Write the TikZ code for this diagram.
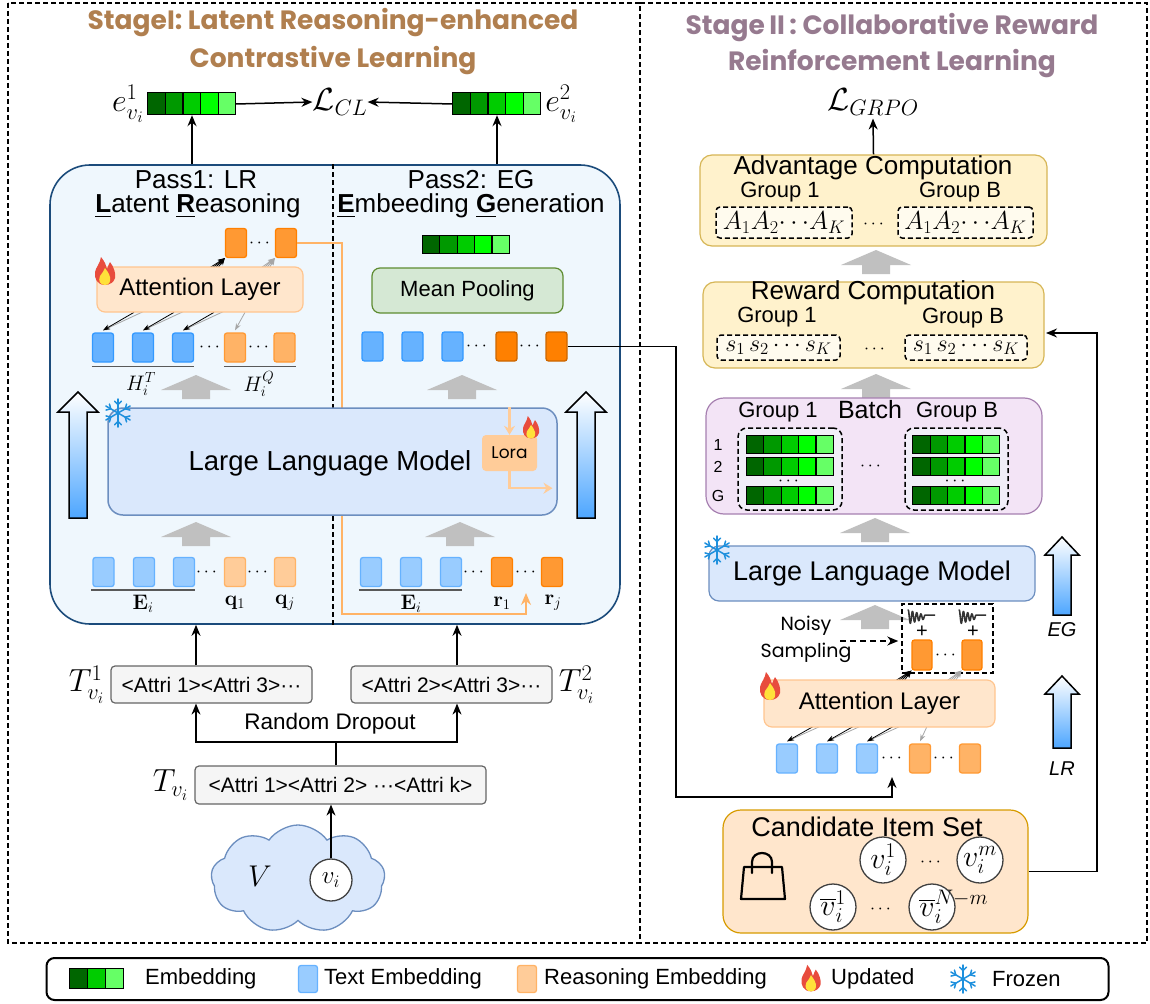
\RequirePackage{fix-cm}
\documentclass[tikz,border=0pt]{standalone}
\usepackage{amsmath}
\usepackage[no-math]{fontspec}
\setmainfont{Liberation Sans}
\newfontfamily\comicfont{Poppins}
\usetikzlibrary{arrows.meta, shapes.symbols, calc}

\definecolor{emA}{HTML}{006600}
\definecolor{emB}{HTML}{009900}
\definecolor{emC}{HTML}{00CC00}
\definecolor{emD}{HTML}{00FF00}
\definecolor{emE}{HTML}{66FF66}
\definecolor{tokblue}{HTML}{66B2FF}
\definecolor{tokblueline}{HTML}{3399FF}
\definecolor{tokltblue}{HTML}{99CCFF}
\definecolor{tokorange}{HTML}{FFB366}
\definecolor{tokorangeline}{HTML}{FF9933}
\definecolor{tokltorange}{HTML}{FFCC99}
\definecolor{tokdkorange}{HTML}{FF9933}
\definecolor{tokdkorangeline}{HTML}{FF8000}
\definecolor{tokdeep}{HTML}{FF8000}
\definecolor{tokdeepline}{HTML}{CC6600}
\definecolor{panelfill}{HTML}{EFF7FD}
\definecolor{panelline}{HTML}{1B4B7B}
\definecolor{llmfill}{HTML}{DAE8FC}
\definecolor{llmline}{HTML}{6C8EBF}
\definecolor{attnfill}{HTML}{FFE6CC}
\definecolor{attnline}{HTML}{FFC58F}
\definecolor{poolfill}{HTML}{D5E8D4}
\definecolor{poolline}{HTML}{5E8C31}
\definecolor{advfill}{HTML}{FFF2CC}
\definecolor{advline}{HTML}{D6B656}
\definecolor{batchfill}{HTML}{F3E4F6}
\definecolor{batchline}{HTML}{A680B0}
\definecolor{candfill}{HTML}{FFE6CC}
\definecolor{candline}{HTML}{D79B00}
\definecolor{attrfill}{HTML}{F5F5F5}
\definecolor{attrline}{HTML}{666666}
\definecolor{stageIcol}{HTML}{B07F4F}
\definecolor{stageIIcol}{HTML}{967A8F}
\definecolor{arrowgray}{HTML}{C0C0C0}
\definecolor{arrowblue}{HTML}{4DA6FF}
\definecolor{frostblue}{HTML}{1E90DD}
\definecolor{flamered}{HTML}{E84C3D}
\definecolor{flameyellow}{HTML}{FFE13A}
\definecolor{routeorange}{HTML}{FFB366}
\definecolor{setfill}{HTML}{FFFBEE}
\definecolor{grpfill}{HTML}{F1EEF8}

\tikzset{
  stageframe/.style={dash pattern=on 5pt off 3pt, line width=1.3pt},
  titleI/.style={align=center, text=stageIcol, inner sep=0pt, font=\comicfont\bfseries\fontsize{26.5}{38}\selectfont},
  titleII/.style={align=center, text=stageIIcol, inner sep=0pt, font=\comicfont\bfseries\fontsize{26.5}{36}\selectfont},
  mathlbl/.style={inner sep=0pt, font=\fontsize{32}{34}\selectfont},
  smallmath/.style={inner sep=0pt, font=\fontsize{21}{24}\selectfont},
  passlbl/.style={inner sep=0pt, font=\fontsize{26}{28}\selectfont},
  boxlbl/.style={inner sep=0pt, font=\fontsize{26}{28}\selectfont},
  grplbl/.style={inner sep=0pt, font=\fontsize{22}{24}\selectfont},
  dotlbl/.style={inner sep=0pt, font=\fontsize{18}{18}\selectfont},
  comiclbl/.style={inner sep=0pt, font=\comicfont\fontsize{19}{27}\selectfont},
  block/.style={draw, line width=1.2pt, rounded corners=8pt, inner sep=0pt},
  attrbox/.style={block, fill=attrfill, draw=attrline, rounded corners=4pt, minimum height=37pt, font=\fontsize{21}{24}\selectfont},
  setbox/.style={draw, dash pattern=on 5pt off 3pt, line width=1.5pt, rounded corners=4pt, fill=setfill, inner sep=0pt, font=\fontsize{26}{28}\selectfont},
  tok/.style={draw, rounded corners=2.5pt, line width=1.3pt, minimum width=21pt, minimum height=29pt, inner sep=0pt},
  tokT/.style={tok, fill=tokblue, draw=tokblueline},
  tokE/.style={tok, fill=tokltblue, draw=tokblue},
  tokQ/.style={tok, fill=tokltorange, draw=tokorange},
  tokH/.style={tok, fill=tokorange, draw=tokorangeline},
  tokR/.style={tok, fill=tokdkorange, draw=tokdkorangeline},
  tokD/.style={tok, fill=tokdeep, draw=tokdeepline},
  flow/.style={-{Stealth[length=11pt, width=9pt]}, line width=1.5pt},
  fan/.style={-{Stealth[length=7pt, width=5pt]}, line width=0.8pt},
  fangray/.style={fan, draw=gray!70, color=gray!70},
  underbar/.style={line width=1.5pt, draw=black!65},
  itemcirc/.style={circle, draw=black!75, line width=1.3pt, fill=white, minimum size=46pt, inner sep=0pt, font=\fontsize{30}{32}\selectfont},
}

% embedding bar: name, centre, cell width, cell height, colours
\newcommand{\embbar}[5]{%
  \node [inner sep=0pt, minimum width=5*#3, minimum height=#4] (#1) at (#2) {};
  \foreach \c [count=\k from 0] in {#5}
    \draw [fill=\c, line width=1.2pt] ([xshift=\k*#3]#1.north west) rectangle ++(#3,#4);
}
% grey block arrow: x, top
\newcommand{\grayup}[2]{%
  \fill [arrowgray] (#1,#2) -- (#1+35,#2+15) -- (#1+14,#2+15) -- (#1+14,#2+24)
    -- (#1-14,#2+24) -- (#1-14,#2+15) -- (#1-35,#2+15) -- cycle;
}
% hollow shaded arrow: x, top, head base, bottom, half head
\newcommand{\hollowup}[5]{%
  \path [draw, line width=1.5pt, top color=white, bottom color=arrowblue]
    (#1,#2) -- (#1+#5,#3) -- (#1+9,#3) -- (#1+9,#4) -- (#1-9,#4) -- (#1-9,#3) -- (#1-#5,#3) -- cycle;
}
% flame: x, y, scale
\newcommand{\flame}[3]{%
  \begin{scope}[shift={(#1,#2)}, scale=#3]
    \fill [flamered] (0,13) .. controls (-8,13) and (-11,6) .. (-10,0)
      .. controls (-9,-5) and (-5,-8) .. (-4,-15) .. controls (0,-10) and (1,-7) .. (2,-3)
      .. controls (3,-6) and (4,-8) .. (5,-10) .. controls (9,-5) and (11,2) .. (10,6)
      .. controls (9,10) and (5,13) .. (0,13) -- cycle;
    \fill [flameyellow] (0,13) .. controls (-5,13) and (-7,9) .. (-5,4)
      .. controls (-3,1) and (-1,-1) .. (0,-4) .. controls (2,-1) and (4,1) .. (5,5)
      .. controls (6,10) and (4,13) .. (0,13) -- cycle;
  \end{scope}
}
% snowflake: x, y, radius
\newcommand{\snowflake}[3]{%
  \begin{scope}[shift={(#1,#2)}, line width=1.5pt, draw=frostblue, line cap=round]
    \foreach \a in {30,90,...,330} {
      \draw (0,0) -- (\a:#3);
      \draw (\a:0.6*#3) -- ++(\a+45:0.35*#3);
      \draw (\a:0.6*#3) -- ++(\a-45:0.35*#3);
    }
  \end{scope}
}
% noise wave: x, y
\newcommand{\noisewave}[2]{%
  \draw [line width=1.6pt, black!80, line join=round] plot [domain=-14:3, samples=80, smooth] ({#1+\x}, {#2+(7-0.3*(\x+14))*sin(\x*85)}) -- ++(10,0);
}

\begin{document}
\begin{tikzpicture}[x=1pt, y=-1pt]
  \useasboundingbox (0,0) rectangle (1150,1003);

  % stage frames
  \draw [stageframe] (8,3) rectangle (640,943);
  \draw [stageframe] (640,3) -- (1147,3) -- (1147,943) -- (640,943);
  \node [titleI] (titleI) at (333,42) {StageI: Latent Reasoning-enhanced\\Contrastive Learning};
  \node [titleII] (titleII) at (892,46) {Stage\,II\,: Collaborative Reward\\Reinforcement Learning};

  % ---------------- Stage I ----------------
  % contrastive loss
  \embbar{e1}{192,104}{17.6}{22}{emA,emB,emC,emD,emE}
  \embbar{e2}{497,104}{17.6}{22}{emA,emB,emC,emD,emE}
  \node [mathlbl] (lcl) at (340,102) {$\mathcal{L}_{CL}$};
  \node [mathlbl, anchor=east] (e1lbl) at ([xshift=-4pt]e1.west) {$e_{v_i}^{1}$};
  \node [mathlbl, anchor=west] (e2lbl) at ([xshift=4pt]e2.east) {$e_{v_i}^{2}$};
  \draw [flow]     (e1.east) -- (lcl.west);
  \draw [flow]     (e2.west) -- (lcl.east);

  % panel with two passes
  \node [draw=panelline, fill=panelfill, line width=1.6pt, rounded corners=40pt,
         minimum width=570, minimum height=459, inner sep=0pt] (panel) at (335,394.5) {};
  \coordinate (divx) at (333,0);
  \draw [dash pattern=on 5pt off 3pt, line width=1.3pt] (panel.north -| divx) -- (panel.south -| divx);
  \draw [flow]     (e1.south |- panel.north) -- (e1.south);
  \draw [flow]     (e2.south |- panel.north) -- (e2.south);
  \node [passlbl] (p1a) at (196,180) {Pass1: LR};
  \node [passlbl] (p1b) at (198,206) {\underline{\textbf{L}}atent \underline{\textbf{R}}easoning};
  \node [passlbl] (p2a) at (471,180) {Pass2: EG};
  \node [passlbl] (p2b) at (471,206) {\underline{\textbf{E}}mbeeding \underline{\textbf{G}}eneration};

  % Pass1: latent tokens
  \node [tokR] (lq1) at (236,243) {};
  \node [dotlbl] (lqd) at (261,243) {$\cdots$};
  \node [tokR] (lq2) at (286,243) {};
  \coordinate (routeend) at (526,593);
  \draw [-{Stealth[length=12pt, width=10pt]}, line width=1.5pt, routeorange]
        (lq2.east) -| (342,614) -| (routeend);

  % Pass1: attention over hidden states
  \node [tokT] (lh1) at (103,347.5) {};
  \node [tokT] (lh2) at (143,347.5) {};
  \node [tokT] (lh3) at (183,347.5) {};
  \node [dotlbl] (lhd1) at (211,347.5) {$\cdots$};
  \node [tokH] (lh4) at (235,347.5) {};
  \node [dotlbl] (lhd2) at (260,347.5) {$\cdots$};
  \node [tokH] (lh5) at (284.5,347.5) {};
  \foreach \s in {0,4,8,12} {
    \draw [fan]     ($(lq1.south west)+(-10-\s,14)$) -- (lq1.south west);
    \draw [fangray] ($(lq2.south west)+(-8-\s,14)$) -- (lq2.south west);
  }
  \foreach \t in {lh1,lh2,lh3} {
    \draw [fangray] ($(\t.north)+(43,-22)$) -- ([yshift=2pt]\t.north);
    \draw [fan]     ($(\t.north)+(31,-20)$) -- ([yshift=2pt]\t.north);
  }
  \draw [fangray] ($(lh4.north)+(10,-20)$) -- ([yshift=2pt]lh4.north);
  \node [block, fill=attnfill, draw=attnline, minimum width=206, minimum height=45,
         font=\fontsize{24}{26}\selectfont] (lattn) at (200,289.5) {Attention Layer};
  \flame{105}{272}{1}
  \draw [underbar] (lh1.south west) ++(0,4) -- ([yshift=-4pt]lh3.south east);
  \draw [underbar] (lh4.south west) ++(0,4) -- ([yshift=-4pt]lh5.south east);
  \node [smallmath] (hT) at (141,384) {$H_i^{T}$};
  \node [smallmath] (hQ) at (259,384) {$H_i^{Q}$};
  \grayup{196}{375}

  % Pass2: mean pooling
  \embbar{pe}{466,244.5}{17.4}{18}{emA,emB,emC,emD,emE}
  \node [block, fill=poolfill, draw=poolline, minimum width=191, minimum height=45,
         font=\fontsize{22}{26}\selectfont] (pool) at (467.5,290.5) {Mean Pooling};
  \node [tokT] (ph1) at (372.5,346.5) {};
  \node [tokT] (ph2) at (412.5,346.5) {};
  \node [tokT] (ph3) at (452.5,346.5) {};
  \node [dotlbl] (phd1) at (478,346.5) {$\cdots$};
  \node [tokD] (ph4) at (506.5,346.5) {};
  \node [dotlbl] (phd2) at (531,346.5) {$\cdots$};
  \node [tokD] (ph5) at (556.5,346.5) {};
  \grayup{462}{375}

  % shared LLM
  \hollowup{78}{392}{412}{518}{20}
  \hollowup{586}{392}{412}{518}{20}
  \node [block, fill=llmfill, draw=llmline, line width=1.5pt, rounded corners=15pt,
         minimum width=449, minimum height=107] (llm) at (332.5,461.5) {};
  \node [boxlbl, font=\fontsize{27.5}{30}\selectfont] (llmt) at (330,463) {Large Language Model};
  \snowflake{118}{413}{14}
  \node [fill=tokltorange, rounded corners=4pt, minimum width=55, minimum height=36,
         inner sep=0pt, font=\comicfont\fontsize{17}{20}\selectfont] (lora) at (509.5,453) {Lora};
  \draw [-{Stealth[length=9pt, width=11pt]}, line width=2.5pt, tokltorange]
        (lora.north |- llm.north) -- (lora.north);
  \draw [-{Stealth[length=9pt, width=11pt]}, line width=2.5pt, tokltorange]
        (lora.south) -- ++(0,17) -- ++(43,0);
  \flame{531}{428}{0.8}
  \grayup{196}{522}
  \grayup{460}{522}

  % input embeddings
  \node [tokE] (le1) at (103.5,572) {};
  \node [tokE] (le2) at (144,572) {};
  \node [tokE] (le3) at (184,572) {};
  \node [dotlbl] (led1) at (208,572) {$\cdots$};
  \node [tokQ] (le4) at (235,572) {};
  \node [dotlbl] (led2) at (259,572) {$\cdots$};
  \node [tokQ] (le5) at (285,572) {};
  \node [tokE] (re1) at (371,572) {};
  \node [tokE] (re2) at (411,572) {};
  \node [tokE] (re3) at (451,572) {};
  \node [dotlbl] (red1) at (475,572) {$\cdots$};
  \node [tokR] (re4) at (502,572) {};
  \node [dotlbl] (red2) at (527,572) {$\cdots$};
  \node [tokR] (re5) at (552,572) {};
  \draw [underbar] (le1.south west) ++(-1,3) -- ([yshift=-3pt]le3.south east);
  \draw [underbar] (re1.south west) ++(-1,3) -- ([yshift=-3pt]re3.south east);
  \node [smallmath] (lE) at (143,604) {$\mathbf{E}_i$};
  \node [smallmath] (lq1l) at (235,603) {$\mathbf{q}_1$};
  \node [smallmath] (lqjl) at (285,603) {$\mathbf{q}_j$};
  \node [smallmath] (rE) at (411,604) {$\mathbf{E}_i$};
  \node [smallmath] (rr1l) at (502,603) {$\mathbf{r}_1$};
  \node [smallmath] (rrjl) at (553,603) {$\mathbf{r}_j$};

  % attribute texts
  \coordinate (split) at (336,742);
  \coordinate (d1) at (196,742);
  \coordinate (d2) at (457,742);
  \node [attrbox, minimum width=201] (t1) at (211.5,684.5) {<Attri 1><Attri 3>···};
  \node [attrbox, minimum width=201] (t2) at (451.5,684.5) {<Attri 2><Attri 3>···};
  \node [attrbox, minimum width=291, minimum height=38] (tv) at (340.5,785) {<Attri 1><Attri 2> ···<Attri k>};
  \node [mathlbl, anchor=east] (t1lbl) at ([xshift=-6pt]t1.west) {$T_{v_i}^{1}$};
  \node [mathlbl, anchor=west] (t2lbl) at ([xshift=6pt]t2.east) {$T_{v_i}^{2}$};
  \node [mathlbl, anchor=east] (tvlbl) at ([xshift=-6pt]tv.west) {$T_{v_i}$};
  \draw [flow]     (d1 |- t1.north) -- (d1 |- panel.south);
  \draw [flow]     (d2 |- t2.north) -- (d2 |- panel.south);
  \draw [line width=1.5pt] (split |- tv.north) -- (split);
  \draw [flow]     (split) -- (d1) -- (d1 |- t1.south);
  \draw [flow]     (split) -- (d2) -- (d2 |- t2.south);
  \node [grplbl, font=\fontsize{22.5}{24}\selectfont] (drop) at (330,724) {Random Dropout};

  % item pool
  \node [cloud, cloud puffs=9, cloud puff arc=110, aspect=1.6, draw=llmline, fill=llmfill,
         line width=1.3pt, minimum width=174, minimum height=108, inner sep=0pt] (V) at (298,879) {};
  \node [mathlbl, font=\fontsize{30}{32}\selectfont] (Vlbl) at (260,876) {$V$};
  \node [itemcirc, minimum size=42pt, font=\fontsize{25}{27}\selectfont] (vi) at (331,880) {$v_i$};
  \draw [flow]     (vi.north) -- (vi.north |- tv.south);

  % ---------------- Stage II ----------------
  \node [mathlbl] (lgrpo) at (873,102) {$\mathcal{L}_{GRPO}$};
  \node [block, fill=advfill, draw=advline, rounded corners=12pt, minimum width=347, minimum height=91] (adv) at (873.5,200.5) {};
  \draw [flow]     (adv.north) -- ([yshift=-3pt]lgrpo.south);
  \node [boxlbl] (advt) at (873,168) {Advantage Computation};
  \node [grplbl] (ag1) at (780,192) {Group 1};
  \node [grplbl] (agb) at (960,192) {Group B};
  \node [setbox, minimum width=136, minimum height=31] (aset1) at (784,222.5) {$A_1A_2{\cdots}A_K$};
  \node [setbox, minimum width=135, minimum height=31] (asetb) at (965.5,222.5) {$A_1A_2{\cdots}A_K$};
  \node [dotlbl] (adots) at (875,224) {$\cdots$};
  \grayup{876}{250}

  \node [block, fill=advfill, draw=advline, rounded corners=12pt, minimum width=341, minimum height=86] (rwd) at (873.5,325) {};
  \node [boxlbl] (rwdt) at (873,293) {Reward Computation};
  \node [grplbl] (rg1) at (777,317) {Group 1};
  \node [grplbl] (rgb) at (963,318) {Group B};
  \node [setbox, minimum width=123, minimum height=25, font=\fontsize{24}{26}\selectfont] (rset1) at (778.5,347.5) {$s_1\,s_2\,{\cdots}\,s_K$};
  \node [setbox, minimum width=122, minimum height=25, font=\fontsize{24}{26}\selectfont] (rsetb) at (966,347.5) {$s_1\,s_2\,{\cdots}\,s_K$};
  \node [dotlbl] (rdots) at (876,349) {$\cdots$};
  \grayup{876}{374}

  % batch of embeddings
  \node [block, fill=batchfill, draw=batchline, rounded corners=18pt, minimum width=336, minimum height=116] (batch) at (874,456) {};
  \node [grplbl] (bg1) at (778,412) {Group 1};
  \node [boxlbl, font=\fontsize{25}{28}\selectfont] (bt) at (870,410) {Batch};
  \node [grplbl] (bgb) at (957,412) {Group B};
  \node [setbox, fill=grpfill, rounded corners=9pt, minimum width=104, minimum height=82] (bset1) at (790,469) {};
  \node [setbox, fill=grpfill, rounded corners=9pt, minimum width=103, minimum height=82] (bsetb) at (956.5,469) {};
  \foreach \y/\r in {444.5/1, 467/2, 496/G} {
    \node [grplbl, font=\fontsize{16}{18}\selectfont] (row\r) at (718,\y) {\r};
    \embbar{ba\r}{790,\y}{17.4}{18}{emA,emB,emC,emD,emE}
    \embbar{bb\r}{956.5,\y}{17.4}{18}{emA,emB,emC,emD,emE}
  }
  \node [dotlbl] (bd1) at (790,481) {$\cdots$};
  \node [dotlbl] (bd2) at (956.5,481) {$\cdots$};
  \node [dotlbl] (bd3) at (872,466) {$\cdots$};
  \grayup{875}{518}

  % frozen LLM
  \node [block, fill=llmfill, draw=llmline, rounded corners=10pt, minimum width=326, minimum height=55,
         font=\fontsize{27}{30}\selectfont] (llm2) at (872,573.5) {Large Language Model};
  \snowflake{717}{550}{14}
  \grayup{875}{605}

  % noisy sampling
  \node [draw, dash pattern=on 5pt off 3pt, line width=1.5pt, minimum width=91, minimum height=69, inner sep=0pt] (nbox) at (947.5,638.5) {};
  \node [tokR, minimum width=20pt, minimum height=30pt] (n1) at (922,655) {};
  \node [dotlbl] (nd) at (947,655) {$\cdots$};
  \node [tokR, minimum width=20pt, minimum height=30pt] (n2) at (972,655) {};
  \noisewave{922}{617}
  \noisewave{973}{617}
  \node [grplbl, font=\fontsize{20}{22}\selectfont] (np1) at (922,632) {+};
  \node [grplbl, font=\fontsize{20}{22}\selectfont] (np2) at (973,632) {+};
  \node [comiclbl, align=center] (noisy) at (806,639) {Noisy\\Sampling};
  \coordinate (nsrc) at (840,641);
  \draw [flow, dash pattern=on 6pt off 4pt] (nsrc) -- ([xshift=-3pt]nsrc -| nbox.west);

  % attention for latent tokens
  \node [tokE] (ab1) at (787,758.5) {};
  \node [tokE] (ab2) at (827,758.5) {};
  \node [tokE] (ab3) at (867,758.5) {};
  \node [dotlbl] (abd1) at (893,758.5) {$\cdots$};
  \node [tokH] (ab4) at (920,758.5) {};
  \node [dotlbl] (abd2) at (945,758.5) {$\cdots$};
  \node [tokH] (ab5) at (970,758.5) {};
  \foreach \s in {0,4,8,12} {
    \draw [fan]     ($(n1.south west)+(-10-\s,14)$) -- (n1.south west);
    \draw [fangray] ($(n2.south west)+(-8-\s,14)$) -- (n2.south west);
  }
  \foreach \t in {ab1,ab2,ab3} {
    \draw [fangray] ($(\t.north)+(42,-21)$) -- ([yshift=2pt]\t.north);
    \draw [fan]     ($(\t.north)+(30,-19)$) -- ([yshift=2pt]\t.north);
  }
  \draw [fangray] ($(ab4.north)+(8,-19)$) -- ([yshift=2pt]ab4.north);
  \node [block, fill=attnfill, draw=attnline, minimum width=231, minimum height=47,
         font=\fontsize{24}{26}\selectfont] (attn2) at (879.5,703.5) {Attention Layer};
  \flame{770}{687}{1}
  \coordinate (latentin) at (892,777);
  \draw [flow]     (ph5.east) -| (676,797) -| (latentin);

  % candidate items
  \node [block, fill=candfill, draw=candline, rounded corners=18pt, minimum width=305, minimum height=123] (cand) at (875.5,871.5) {};
  \node [boxlbl, font=\fontsize{27}{30}\selectfont] (candt) at (867,827) {Candidate Item Set};
  \draw [line width=2.2pt, line join=round] (744,867) -- (782,867) -- (785,899) -- (741,899) -- cycle;
  \draw [line width=2.2pt, line cap=round] (752,873) -- (752,862) .. controls (752,850) and (772,850) .. (772,862) -- (772,873);
  \node [itemcirc] (c1) at (883,860) {$v_i^{1}$};
  \node [dotlbl] (cd1) at (932,862) {$\cdots$};
  \node [itemcirc] (cm) at (980,860) {$v_i^{m}$};
  \node [itemcirc] (n1c) at (833,907) {$\overline{v}_i^{1}$};
  \node [dotlbl] (cd2) at (882,909) {$\cdots$};
  \node [itemcirc] (nmc) at (932,907) {$\overline{v}_i^{\rlap{$\scriptstyle N-m$}\phantom{1}}$};
  \coordinate (rwdin) at (1046,333);
  \draw [flow]     (cand.east) -| (1097,600) |- (rwdin);

  % pass indicators
  \hollowup{1062}{537}{555}{615}{17}
  \hollowup{1062}{676}{694}{748}{17}
  \node [grplbl, font=\itshape\fontsize{20}{24}\selectfont] (eglbl) at (1062,630) {EG};
  \node [grplbl, font=\itshape\fontsize{20}{24}\selectfont] (lrlbl) at (1062,769) {LR};

  % ---------------- legend ----------------
  \node [draw, line width=2pt, rounded corners=8pt, minimum width=1062, minimum height=42, inner sep=0pt] (legend) at (577.5,979) {};
  \embbar{lgbar}{115,979}{18}{20}{emA,emC,emE}
  \node [grplbl, anchor=west] (lg1) at (145,979) {Embedding};
  \node [tokE, minimum width=19pt, minimum height=27pt] (lgt) at (308,979) {};
  \node [grplbl, anchor=west] (lg2) at (324,979) {Text Embedding};
  \node [tokQ, minimum width=19pt, minimum height=27pt] (lgr) at (527,979) {};
  \node [grplbl, anchor=west] (lg3) at (544,979) {Reasoning Embedding};
  \flame{811}{979}{0.95}
  \node [grplbl, anchor=west] (lg4) at (831,979) {Updated};
  \snowflake{963}{979}{14}
  \node [grplbl, anchor=west] (lg5) at (992,979) {Frozen};
\end{tikzpicture}
\end{document}
